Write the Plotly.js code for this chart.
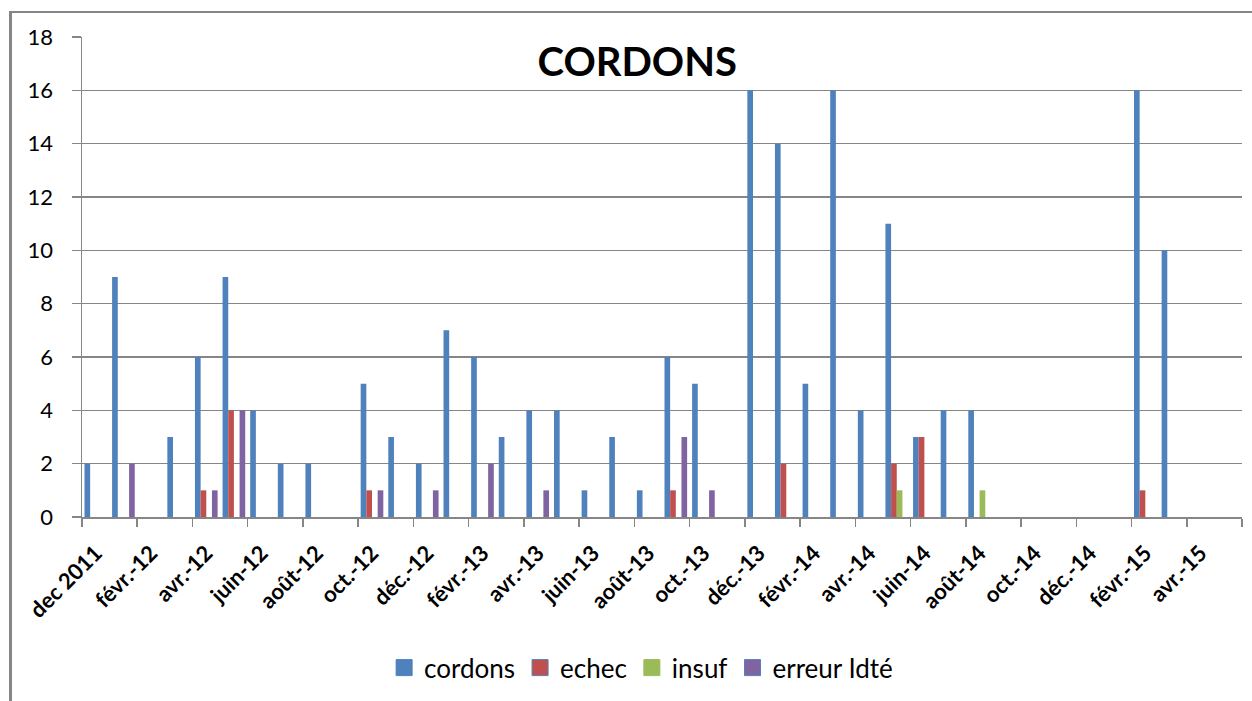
<!DOCTYPE html>
<html>
<head>
<meta charset="utf-8">
<script src="https://cdn.plot.ly/plotly-3.0.1.min.js"></script>
<style>
  html, body { margin: 0; padding: 0; background: #fff; }
  #chart { width: 1252px; height: 701px; }
  #frame { position: absolute; left: 9px; top: 11px; width: 1250px; height: 700px;
           border-left: 3px solid #868686; border-top: 2px solid #868686; pointer-events: none; }
</style>
</head>
<body>
<div id="chart"></div>
<div id="frame"></div>
<script>
// Monthly categories, Dec 2011 -> May 2015
const months = [
  "dec 2011",
  "janv.-12", "févr.-12", "mars-12", "avr.-12", "mai-12", "juin-12",
  "juil.-12", "août-12", "sept.-12", "oct.-12", "nov.-12", "déc.-12",
  "janv.-13", "févr.-13", "mars-13", "avr.-13", "mai-13", "juin-13",
  "juil.-13", "août-13", "sept.-13", "oct.-13", "nov.-13", "déc.-13",
  "janv.-14", "févr.-14", "mars-14", "avr.-14", "mai-14", "juin-14",
  "juil.-14", "août-14", "sept.-14", "oct.-14", "nov.-14", "déc.-14",
  "janv.-15", "févr.-15", "mars-15", "avr.-15", "mai-15"
];

const cordons = [2, 9, 0, 3, 6, 9, 4, 2, 2, 0, 5, 3, 2, 7, 6, 3, 4, 4, 1, 3, 1,
                 6, 5, 0, 16, 14, 5, 16, 4, 11, 3, 4, 4, 0, 0, 0, 0, 0, 16, 10, 0, 0];
const echec   = [0, 0, 0, 0, 1, 4, 0, 0, 0, 0, 1, 0, 0, 0, 0, 0, 0, 0, 0, 0, 0,
                 1, 0, 0, 0, 2, 0, 0, 0, 2, 3, 0, 0, 0, 0, 0, 0, 0, 1, 0, 0, 0];
const insuf   = [0, 0, 0, 0, 0, 0, 0, 0, 0, 0, 0, 0, 0, 0, 0, 0, 0, 0, 0, 0, 0,
                 0, 0, 0, 0, 0, 0, 0, 0, 1, 0, 0, 1, 0, 0, 0, 0, 0, 0, 0, 0, 0];
const erreur  = [0, 2, 0, 0, 1, 4, 0, 0, 0, 0, 1, 0, 1, 0, 2, 0, 1, 0, 0, 0, 0,
                 3, 1, 0, 0, 0, 0, 0, 0, 0, 0, 0, 0, 0, 0, 0, 0, 0, 0, 0, 0, 0];

const seriesNames = ["cordons", "echec", "insuf", "erreur Idté"];
const seriesColors = ["#4F81BD", "#C0504D", "#9BBB59", "#8064A2"];
const legendBorders = ["#4F81BD", "#4F81BD", "#9BBB59", "#4F81BD"];
const yTicks = [0, 2, 4, 6, 8, 10, 12, 14, 16, 18];

const idx = months.map((m, i) => i);
const labelIdx = idx.filter(i => i % 2 === 0);
const labelText = labelIdx.map(i => months[i]);

const values = [cordons, echec, insuf, erreur];
const barTraces = values.map((v, k) => ({
  type: "bar",
  name: seriesNames[k],
  legendgroup: seriesNames[k],
  showlegend: false,
  x: idx,
  y: v,
  marker: { color: seriesColors[k], line: { width: 0 } },
  hovertext: months,
  hoverinfo: "text+y+name"
}));
// legend-only entries (square swatches like the original legend); they draw no marks
const legendTraces = seriesNames.map((n, k) => ({
  type: "scatter",
  mode: "markers",
  name: n,
  legendgroup: n,
  x: [null],
  y: [null],
  marker: { symbol: "square", size: 16, color: seriesColors[k],
            line: { color: legendBorders[k], width: 1 } }
}));

const font = "Lato, 'Open Sans', 'DejaVu Sans', sans-serif";

const layout = {
  width: 1252, height: 701,
  margin: { l: 82, r: 10, t: 37, b: 182, pad: 0 },
  paper_bgcolor: "#ffffff",
  plot_bgcolor: "#ffffff",
  barmode: "group",
  bargap: 0.18,
  bargroupgap: 0,
  font: { family: font, color: "#000000" },
  title: {
    text: "<b>CORDONS</b>",
    font: { family: font, size: 40, color: "#000000" },
    x: 0.509, xanchor: "center", xref: "container",
    y: 0.912, yanchor: "middle", yref: "container"
  },
  xaxis: {
    type: "linear",
    range: [-0.5, months.length - 0.5],
    tickmode: "array",
    tickvals: labelIdx,
    ticktext: labelText,
    tickangle: -45,
    ticks: "",
    ticklabelstandoff: 13,
    tickfont: { family: font, size: 22, color: "#000000", weight: "bold" },
    showgrid: false,
    zeroline: false,
    showline: true,
    linecolor: "#868686",
    linewidth: 1.5,
    minor: {
      tickmode: "linear", tick0: -0.5, dtick: 2,
      ticks: "outside", ticklen: 8, tickwidth: 1.5, tickcolor: "#868686",
      showgrid: false
    },
    fixedrange: true
  },
  yaxis: {
    range: [0, 18],
    tickmode: "array",
    tickvals: yTicks,
    ticks: "outside",
    ticklen: 9,
    tickwidth: 1.5,
    tickcolor: "#868686",
    ticklabelstandoff: 14,
    tickfont: { family: font, size: 22, color: "#000000" },
    showgrid: true,
    gridcolor: "#868686",
    gridwidth: 1.2,
    zeroline: false,
    showline: true,
    linecolor: "#868686",
    linewidth: 1.5,
    fixedrange: true
  },
  showlegend: true,
  legend: {
    orientation: "h",
    x: 0.482, xanchor: "center",
    y: -0.314, yanchor: "middle",
    font: { family: font, size: 26, color: "#000000" },
    itemwidth: 30,
    bgcolor: "rgba(0,0,0,0)"
  }
};

Plotly.newPlot("chart", barTraces.concat(legendTraces), layout, { displayModeBar: false, staticPlot: true });
</script>
</body>
</html>
